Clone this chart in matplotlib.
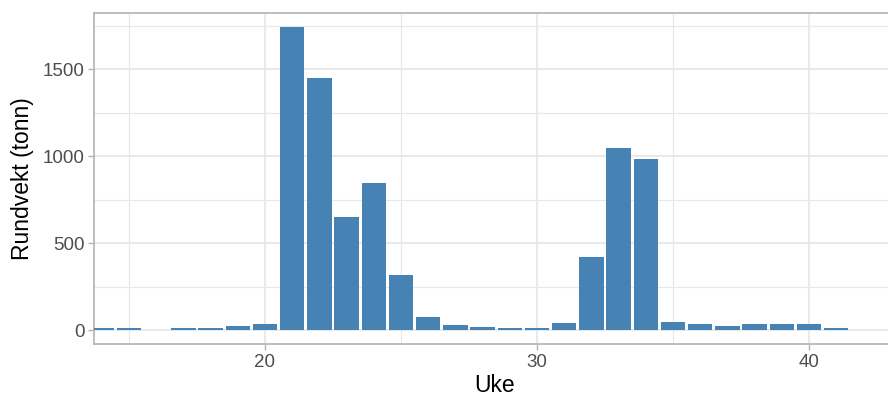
import matplotlib.pyplot as plt
from matplotlib.ticker import MultipleLocator

# weekly landed round weight (tonnes)
uke = [14, 15, 17, 18, 19, 20, 21, 22, 23, 24, 25, 26, 27, 28, 29, 30,
       31, 32, 33, 34, 35, 36, 37, 38, 39, 40, 41]
rundvekt = [12, 12, 12, 12, 25, 35, 1745, 1452, 648, 844, 316, 77, 28, 15, 12, 12,
            38, 418, 1045, 982, 46, 35, 25, 33, 33, 33, 12]

plt.rcParams['font.family'] = ['Liberation Sans', 'DejaVu Sans']

W, H = 888, 401
fig = plt.figure(figsize=(W / 100, H / 100), dpi=100)

# panel in pixel units, right side runs off the picture
left_px, right_px, top_px, bot_px = 94, 895, 12.7, 344
ax = fig.add_axes([left_px / W, (H - bot_px) / H,
                   (right_px - left_px) / W, (bot_px - top_px) / H])

ax.bar(uke, rundvekt, width=0.9, color='#4682B4', zorder=3)

# x: 20 -> 265px, 27.2 px per week
px_per_week = 27.2
ax.set_xlim(20 + (left_px - 265) / px_per_week, 20 + (right_px - 265) / px_per_week)
ax.set_ylim(-80.5, 1826)

ax.xaxis.set_major_locator(MultipleLocator(10))
ax.xaxis.set_minor_locator(MultipleLocator(5))
ax.yaxis.set_major_locator(MultipleLocator(500))
ax.yaxis.set_minor_locator(MultipleLocator(250))

ax.grid(which='major', color='#E3E3E3', linewidth=1.1, zorder=0)
ax.grid(which='minor', color='#E8E8E8', linewidth=0.9, zorder=0)
ax.set_axisbelow(True)

for s in ax.spines.values():
    s.set_color('#B3B3B3')
    s.set_linewidth(1.2)

ax.tick_params(which='major', length=4, width=1.0, color='#B3B3B3',
               labelcolor='#4D4D4D', labelsize=13.5, pad=3)
ax.tick_params(which='minor', length=0)

ax.set_xlabel('Uke', fontsize=16.5, color='black', labelpad=2)
ax.set_ylabel('Rundvekt (tonn)', fontsize=16.5, color='black', labelpad=6)

fig.savefig('out.png', dpi=100)
